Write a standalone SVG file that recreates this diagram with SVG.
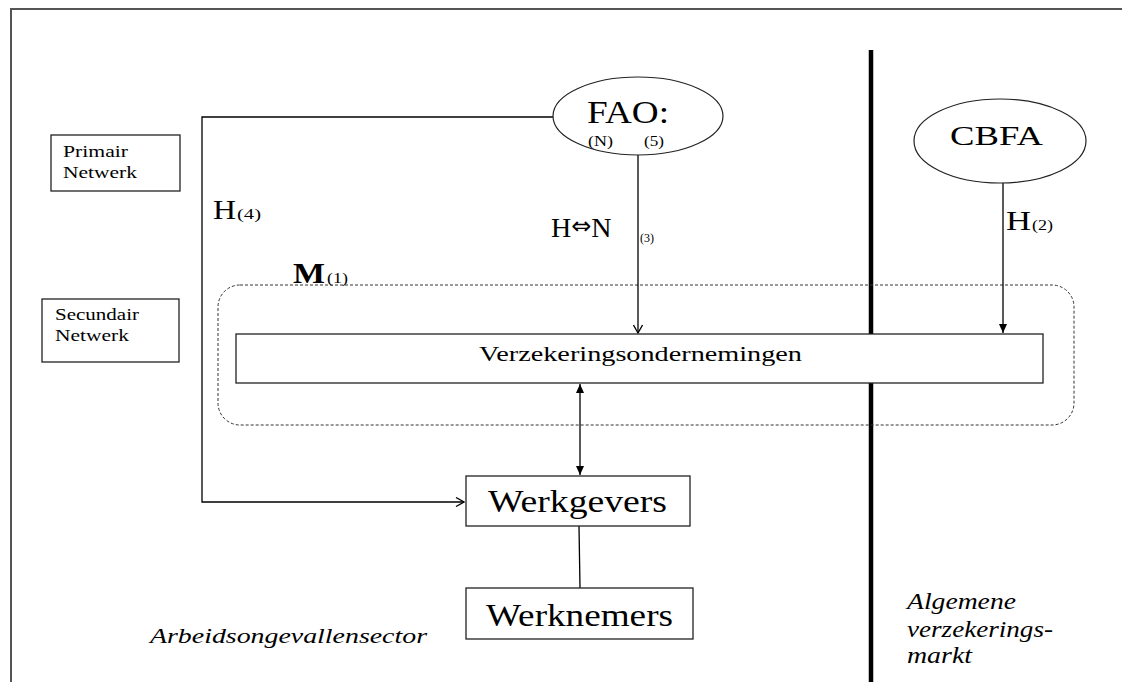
<svg xmlns="http://www.w3.org/2000/svg" width="1122" height="682" viewBox="0 0 1122 682">
<defs>
<marker id="open" markerWidth="10" markerHeight="10" refX="9" refY="5" orient="auto" markerUnits="userSpaceOnUse">
<path d="M1,0.5 L9,5 L1,9.5" fill="none" stroke="#000" stroke-width="1.3"/>
</marker>
<marker id="fill" markerWidth="10" markerHeight="10" refX="9" refY="5" orient="auto" markerUnits="userSpaceOnUse">
<path d="M0,1 L9,5 L0,9 Z" fill="#000"/>
</marker>
<marker id="fillStart" markerWidth="10" markerHeight="10" refX="1" refY="5" orient="auto" markerUnits="userSpaceOnUse">
<path d="M10,1 L1,5 L10,9 Z" fill="#000"/>
</marker>
</defs>
<style>
.box{fill:#fff;stroke:#222;stroke-width:1.3}
.ell{fill:#fff;stroke:#222;stroke-width:1.2}
.ln{fill:none;stroke:#000;stroke-width:1.3}
.t{font-family:"Liberation Serif","Times New Roman",serif;fill:#000}
.i{font-family:"Liberation Serif","Times New Roman",serif;font-style:italic;fill:#000}
</style>
<rect width="1122" height="682" fill="#fff"/>
<g id="frame">
<path d="M11,682 L11,9 L1122,9" fill="none" stroke="#555" stroke-width="2"/>
<line x1="871" y1="50" x2="871" y2="682" stroke="#000" stroke-width="4.5"/>
</g>
<g id="primair">
<rect class="box" x="51" y="135" width="129" height="56"/>
<text class="t" x="63" y="157" font-size="17" textLength="65" lengthAdjust="spacingAndGlyphs">Primair</text>
<text class="t" x="63" y="178" font-size="17" textLength="74" lengthAdjust="spacingAndGlyphs">Netwerk</text>
</g>
<g id="secundair">
<rect class="box" x="42" y="299" width="137" height="63"/>
<text class="t" x="55" y="320" font-size="17" textLength="84" lengthAdjust="spacingAndGlyphs">Secundair</text>
<text class="t" x="55" y="341" font-size="17" textLength="74" lengthAdjust="spacingAndGlyphs">Netwerk</text>
</g>
<g id="markt">
<rect x="218" y="285" width="856" height="140" rx="22" ry="22" fill="none" stroke="#333" stroke-width="1" stroke-dasharray="3,2"/>
<text class="t" x="293" y="283" font-size="29" font-weight="bold" textLength="32" lengthAdjust="spacingAndGlyphs">M</text>
<text class="t" x="327" y="283" font-size="14" textLength="21" lengthAdjust="spacingAndGlyphs">(1)</text>
</g>
<g id="connectors">
<path class="ln" d="M553,117 H202 V502 H464" marker-end="url(#open)"/>
<line class="ln" x1="638" y1="155" x2="638" y2="333" marker-end="url(#open)"/>
<line class="ln" x1="1003" y1="183" x2="1003" y2="333" marker-end="url(#fill)"/>
<line class="ln" x1="580" y1="384" x2="580" y2="475" marker-start="url(#fillStart)" marker-end="url(#fill)"/>
<line class="ln" x1="579" y1="526" x2="580" y2="588"/>
</g>
<g id="labels">
<text class="t" x="213" y="219" font-size="28" textLength="23" lengthAdjust="spacingAndGlyphs">H</text>
<text class="t" x="237" y="219" font-size="14" textLength="24" lengthAdjust="spacingAndGlyphs">(4)</text>
<text class="t" x="551" y="237" font-size="28">H<tspan font-family="'DejaVu Sans',sans-serif" font-size="24" dy="-3">⇔</tspan><tspan dy="3">N</tspan></text>
<text class="t" x="640" y="242" font-size="13" textLength="14" lengthAdjust="spacingAndGlyphs">(3)</text>
<text class="t" x="1006" y="230" font-size="28" textLength="25" lengthAdjust="spacingAndGlyphs">H</text>
<text class="t" x="1032" y="230" font-size="14" textLength="21" lengthAdjust="spacingAndGlyphs">(2)</text>
</g>
<g id="fao">
<ellipse class="ell" cx="638" cy="116" rx="85" ry="39"/>
<text class="t" x="587" y="123" font-size="31" textLength="82" lengthAdjust="spacingAndGlyphs">FAO:</text>
<text class="t" x="588" y="146" font-size="14" textLength="25" lengthAdjust="spacingAndGlyphs">(N)</text>
<text class="t" x="644" y="146" font-size="14" textLength="20" lengthAdjust="spacingAndGlyphs">(5)</text>
</g>
<g id="cbfa">
<ellipse class="ell" cx="1000" cy="141" rx="86" ry="42"/>
<text class="t" x="950" y="145" font-size="27" textLength="93" lengthAdjust="spacingAndGlyphs">CBFA</text>
</g>
<g id="verzekeringsondernemingen">
<rect class="box" x="236" y="334" width="807" height="49"/>
<text class="t" x="479" y="361" font-size="22" textLength="323" lengthAdjust="spacingAndGlyphs">Verzekeringsondernemingen</text>
</g>
<g id="werkgevers">
<rect class="box" x="466" y="476" width="224" height="50"/>
<text class="t" x="488" y="512" font-size="31" textLength="179" lengthAdjust="spacingAndGlyphs">Werkgevers</text>
</g>
<g id="werknemers">
<rect class="box" x="466" y="588" width="227" height="51"/>
<text class="t" x="486" y="626" font-size="31" textLength="187" lengthAdjust="spacingAndGlyphs">Werknemers</text>
</g>
<g id="sectors">
<text class="i" x="150" y="643" font-size="22" textLength="277" lengthAdjust="spacingAndGlyphs">Arbeidsongevallensector</text>
<text class="i" x="907" y="609" font-size="23" textLength="109" lengthAdjust="spacingAndGlyphs">Algemene</text>
<text class="i" x="907" y="637" font-size="23" textLength="146" lengthAdjust="spacingAndGlyphs">verzekerings-</text>
<text class="i" x="907" y="663" font-size="23" textLength="65" lengthAdjust="spacingAndGlyphs">markt</text>
</g>
</svg>
